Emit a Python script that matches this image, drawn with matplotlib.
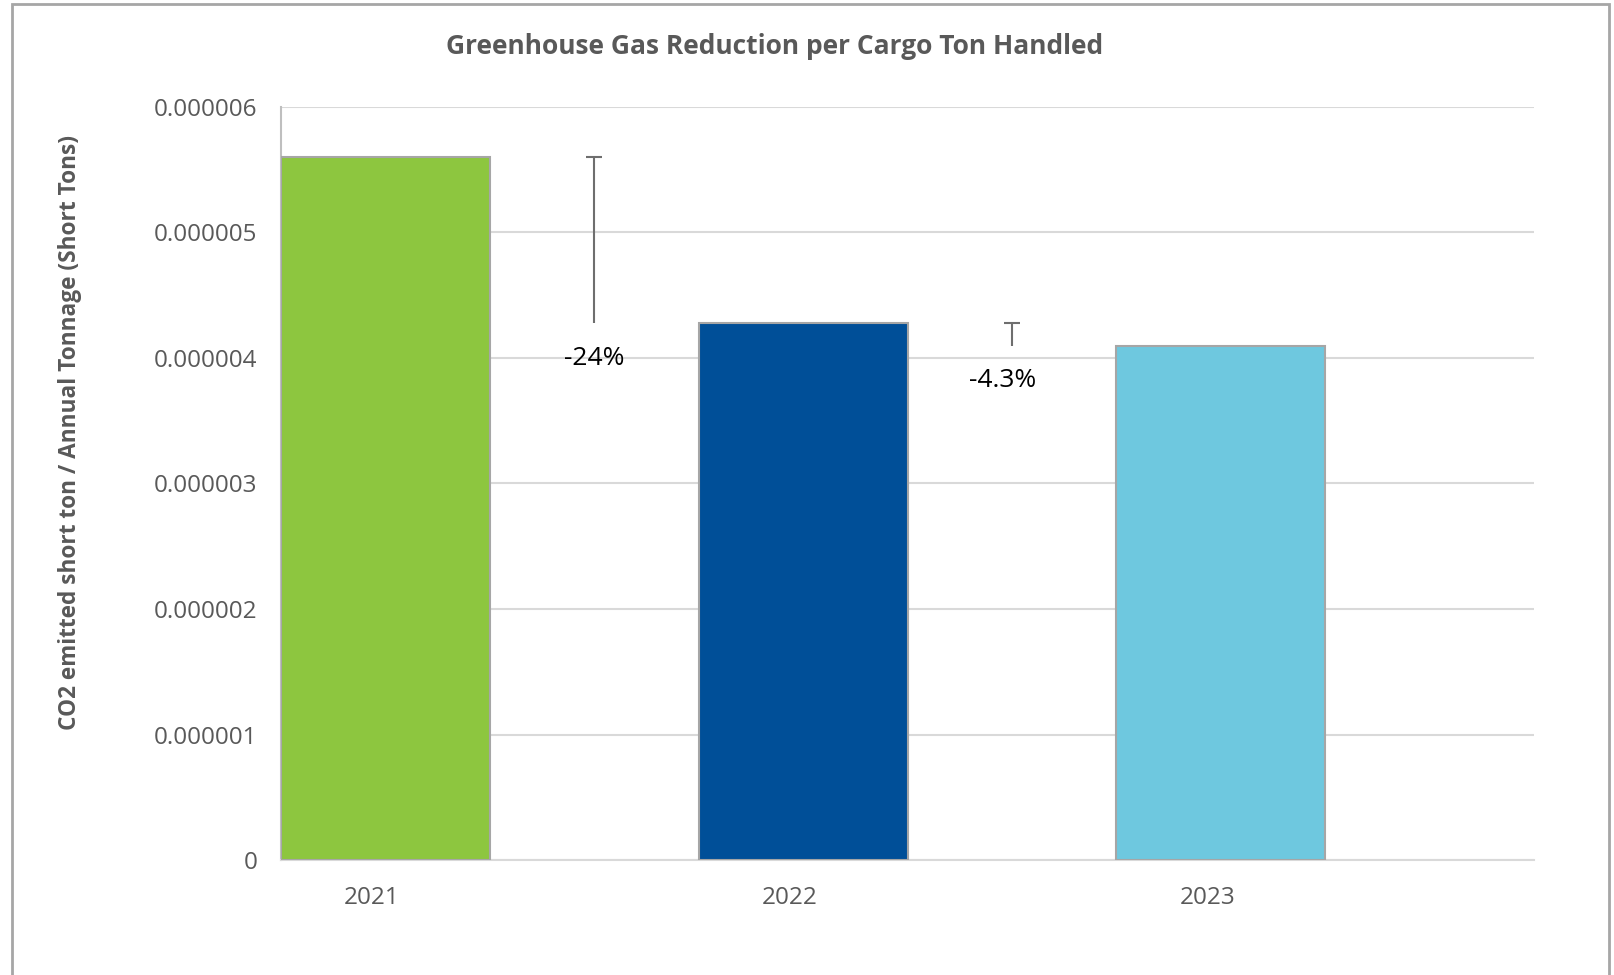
import matplotlib
matplotlib.use('Agg')
from matplotlib import pyplot as plt
from matplotlib.patches import Rectangle

plt.rcParams['font.family'] = ['Open Sans', 'DejaVu Sans']

years = ['2021', '2022', '2023']
ghg_per_ton = [5.605e-6, 4.277e-6, 4.098e-6]
change_labels = ['-24%', '-4.3%']
yticks = [0, 1e-6, 2e-6, 3e-6, 4e-6, 5e-6, 6e-6]
ytick_labels = ['0', '0.000001', '0.000002', '0.000003', '0.000004', '0.000005', '0.000006']
bar_colors = ['#8DC63F', '#004F98', '#6EC8DF']

text_gray = '#595959'
grid_gray = '#d9d9d9'

fig = plt.figure(figsize=(16.14, 9.75), dpi=100)
ax = fig.add_axes([281 / 1614, 1 - 860 / 975, (1534 - 281) / 1614, (860 - 107) / 975])

x = list(range(len(years)))
# bars sit on the left half of each category (Excel clustered with a hidden series)
ax.bar([i - 0.5 for i in x], ghg_per_ton, width=0.5, align='edge',
       color=bar_colors, edgecolor='#a6a6a6', linewidth=1.5, zorder=3)

# change markers: vertical line from the next year's value up to this year's
for i, lab in enumerate(change_labels):
    xc = i + 0.25
    lo, hi = ghg_per_ton[i + 1], ghg_per_ton[i]
    ax.vlines(xc, lo, hi, color='#6e6e6e', linewidth=1.5, zorder=4)
    ax.plot([xc], [hi], marker='_', markersize=11, markeredgewidth=1.5, color='#6e6e6e', zorder=4)
    ax.annotate(lab, (xc, lo), xytext=(-9 if i else 0, -35), textcoords='offset pixels',
                ha='center', va='center', fontsize=19, color='black', zorder=5)

ax.set_xlim(-0.5, 2.5)
ax.set_ylim(0, 6e-6)
ax.set_yticks(yticks)
ax.set_yticklabels(ytick_labels)
ax.set_xticks([i - 0.282 for i in x])
ax.set_xticklabels(years)
ax.tick_params(axis='y', length=0, pad=17, labelsize=17.5, labelcolor=text_gray)
ax.tick_params(axis='x', length=0, pad=19, labelsize=17.5, labelcolor=text_gray)

ax.grid(axis='y', color=grid_gray, linewidth=1.5, zorder=0)
ax.set_axisbelow(True)
for s in ['top', 'right']:
    ax.spines[s].set_visible(False)
ax.spines['bottom'].set_color(grid_gray)
ax.spines['bottom'].set_linewidth(1.5)
ax.spines['left'].set_color('#bfbfbf')
ax.spines['left'].set_linewidth(1.5)

fig.text(775 / 1614, 1 - 47 / 975, 'Greenhouse Gas Reduction per Cargo Ton Handled',
         ha='center', va='center', fontsize=19, fontweight='bold', color=text_gray)
fig.text(70 / 1614, 1 - 432 / 975, 'CO2 emitted short ton / Annual Tonnage (Short Tons)',
         ha='center', va='center', rotation=90, fontsize=16.3, fontweight='bold', color=text_gray)

# chart area border (open at the bottom)
fig.patches.append(Rectangle((12 / 1614, -0.05), (1609 - 12) / 1614, 1.05 - 4 / 975,
                             transform=fig.transFigure, fill=False,
                             edgecolor='#a6a6a6', linewidth=2))

fig.savefig('out.png', dpi=100)
